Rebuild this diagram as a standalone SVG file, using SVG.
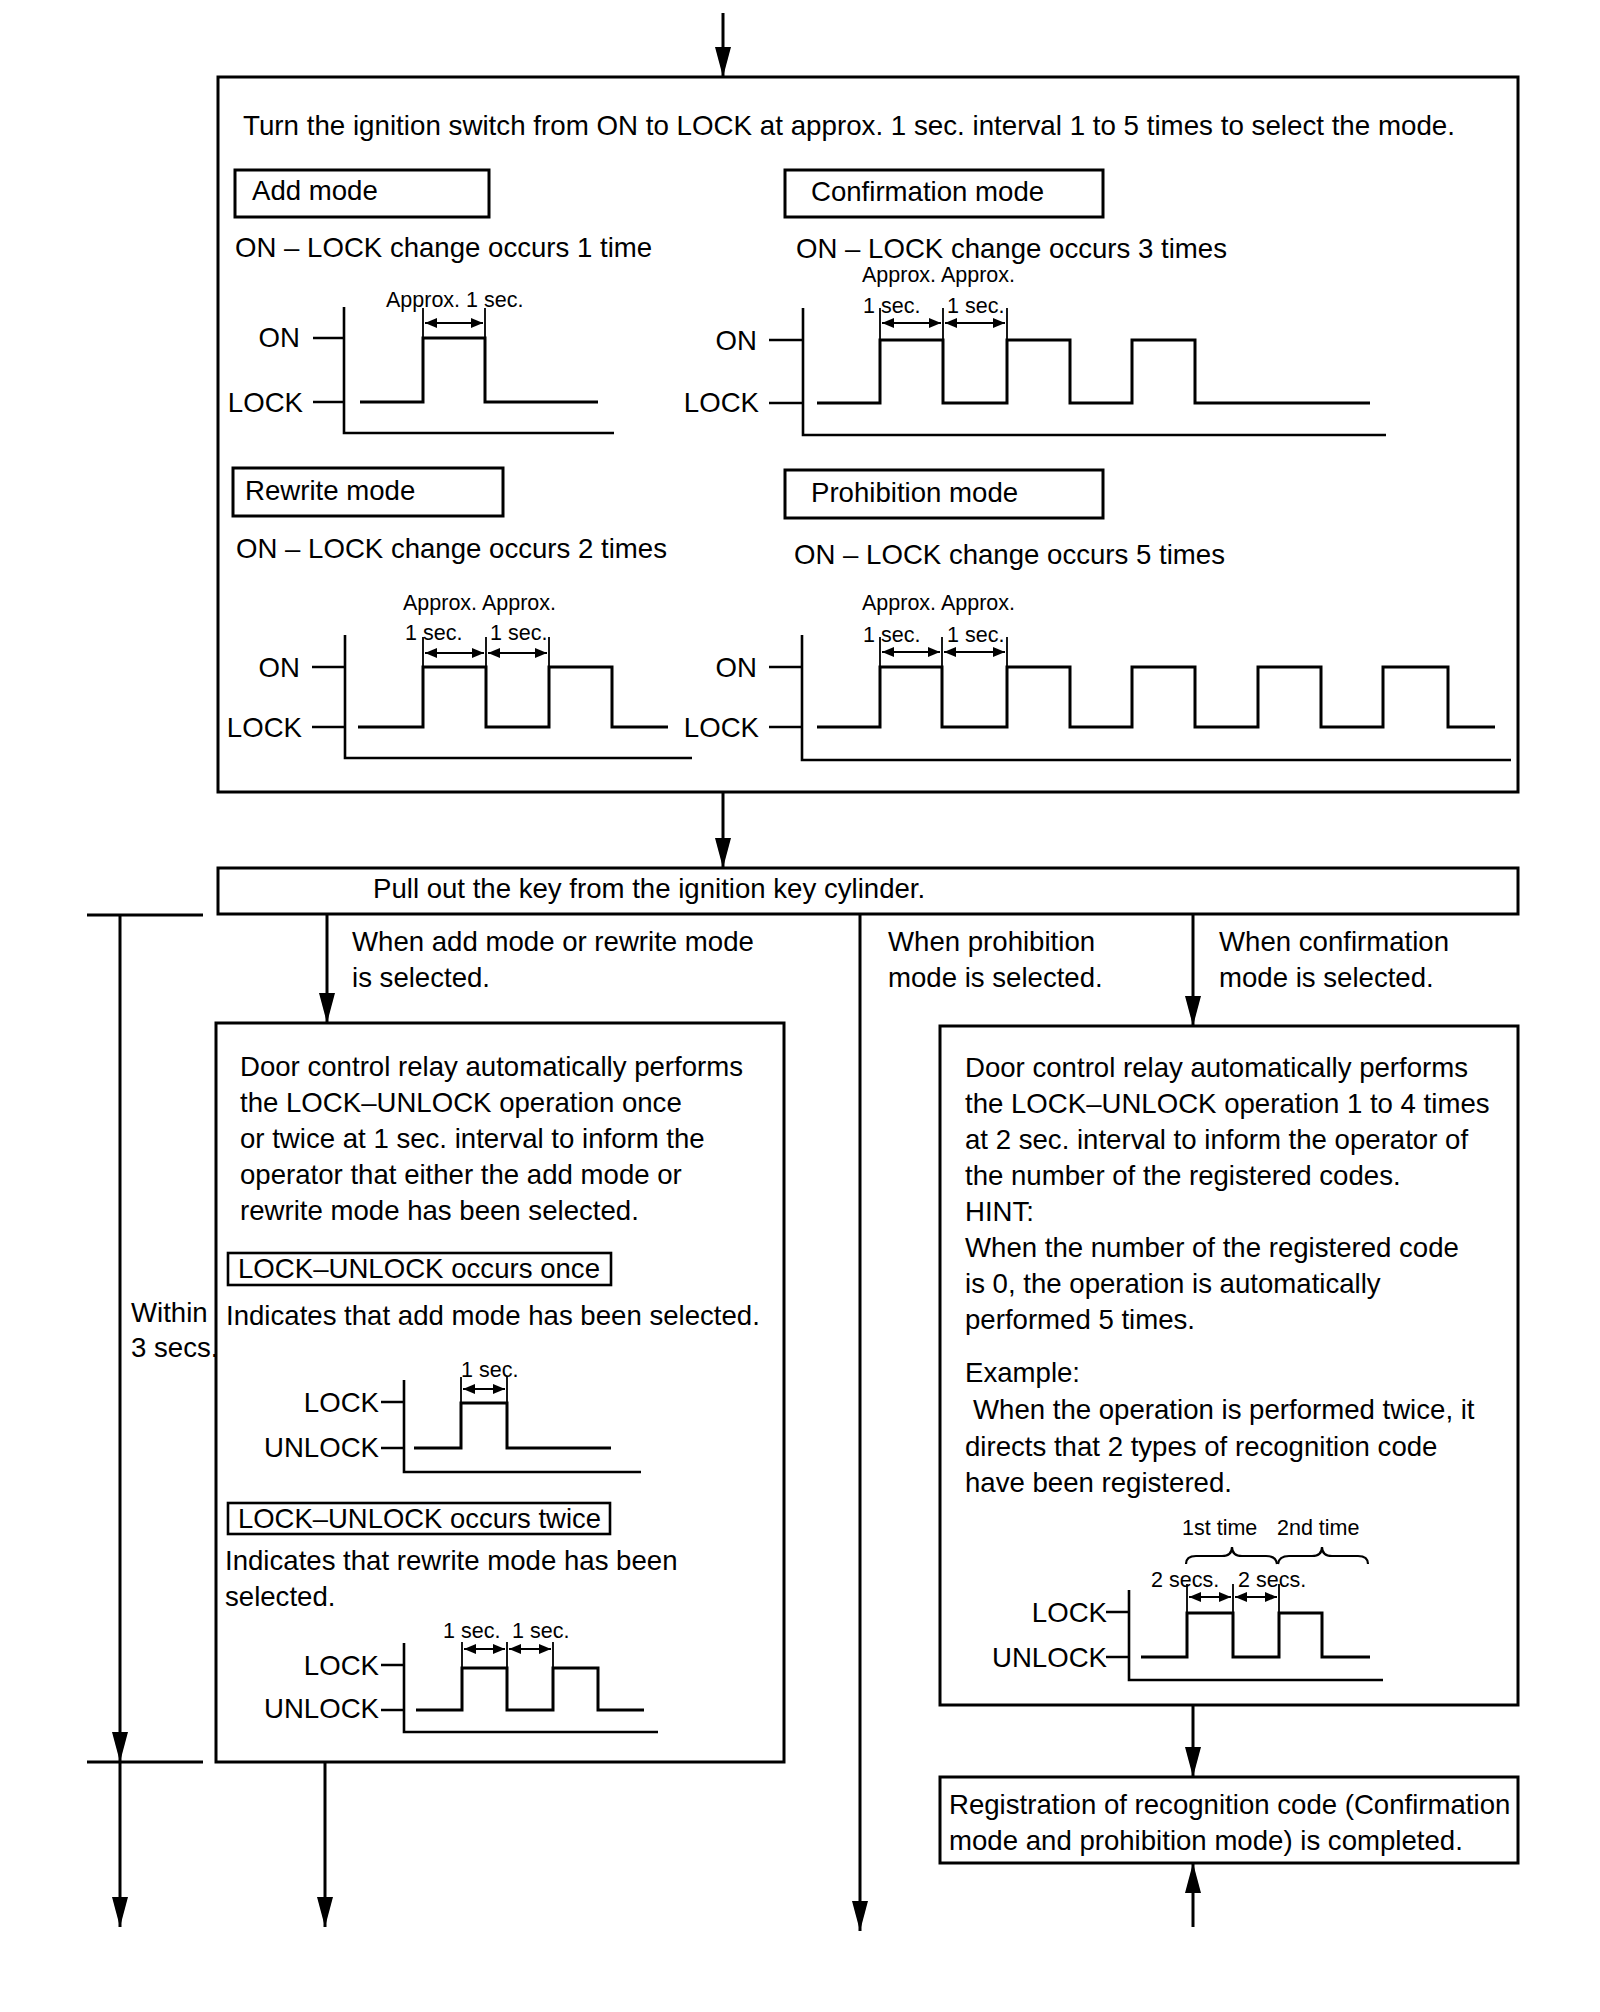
<svg xmlns="http://www.w3.org/2000/svg" width="1600" height="2012" viewBox="0 0 1600 2012">
<style>
text{font-family:"Liberation Sans",Arial,sans-serif;font-size:27.6px;fill:#000}
.s{font-size:21.5px}
.e{text-anchor:end}
.box{fill:none;stroke:#000;stroke-width:3}
.sig{fill:none;stroke:#000;stroke-width:3;stroke-linejoin:miter}
.ax{fill:none;stroke:#000;stroke-width:2.6}
.mk{fill:none;stroke:#000;stroke-width:1.8}
.da{fill:none;stroke:#000;stroke-width:2.2;marker-start:url(#sa);marker-end:url(#sa)}
.fl{fill:none;stroke:#000;stroke-width:3;marker-end:url(#ah)}
.ln{fill:none;stroke:#000;stroke-width:3}
</style>
<defs>
<marker id="ah" viewBox="0 0 30 16" refX="30" refY="8" markerWidth="30" markerHeight="16" orient="auto" markerUnits="userSpaceOnUse"><path d="M0,0 L30,8 L0,16 z" fill="#000"/></marker>
<marker id="sa" viewBox="0 0 12 10" refX="12" refY="5" markerWidth="12" markerHeight="10" orient="auto-start-reverse" markerUnits="userSpaceOnUse"><path d="M0,0 L12,5 L0,10 z" fill="#000"/></marker>
</defs>
<rect width="1600" height="2012" fill="#fff"/>

<g id="mode-select">
<rect class="box" x="218" y="77" width="1300" height="715"/>
<text x="243" y="135" textLength="1212" lengthAdjust="spacingAndGlyphs">Turn the ignition switch from ON to LOCK at approx. 1 sec. interval 1 to 5 times to select the mode.</text>

<g id="add-mode">
<rect class="box" x="235" y="170" width="254" height="47"/>
<text x="252" y="200">Add mode</text>
<text x="235" y="257">ON – LOCK change occurs 1 time</text>
<text class="s" x="386" y="307">Approx. 1 sec.</text>
<text class="e" x="300" y="347">ON</text>
<text class="e" x="303" y="412">LOCK</text>
<path class="ax" d="M344,307 V433 H614 M313,338 H344 M313,402 H344"/>
<path class="mk" d="M423,308 V338 M485,308 V338"/>
<line class="da" x1="425" y1="323" x2="483" y2="323"/>
<path class="sig" d="M360,402 H423 V338 H485 V402 H598"/>
</g>

<g id="confirmation-mode">
<rect class="box" x="785" y="170" width="318" height="47"/>
<text x="811" y="201">Confirmation mode</text>
<text x="796" y="258">ON – LOCK change occurs 3 times</text>
<text class="s" x="862" y="282">Approx. Approx.</text>
<text class="s" x="863" y="313">1 sec.</text>
<text class="s" x="947" y="313">1 sec.</text>
<text class="e" x="757" y="350">ON</text>
<text class="e" x="759" y="412">LOCK</text>
<path class="ax" d="M803,308 V435 H1386 M769,340 H803 M769,403 H803"/>
<path class="mk" d="M880,308 V340 M943,308 V340 M1007,308 V340"/>
<line class="da" x1="882" y1="323" x2="941" y2="323"/>
<line class="da" x1="945" y1="323" x2="1005" y2="323"/>
<path class="sig" d="M817,403 H880 V340 H943 V403 H1007 V340 H1070 V403 H1132 V340 H1195 V403 H1370"/>
</g>

<g id="rewrite-mode">
<rect class="box" x="233" y="468" width="270" height="48"/>
<text x="245" y="500">Rewrite mode</text>
<text x="236" y="558">ON – LOCK change occurs 2 times</text>
<text class="s" x="403" y="610">Approx. Approx.</text>
<text class="s" x="405" y="640">1 sec.</text>
<text class="s" x="490" y="640">1 sec.</text>
<text class="e" x="300" y="677">ON</text>
<text class="e" x="302" y="737">LOCK</text>
<path class="ax" d="M345,635 V758 H692 M312,667 H345 M312,727 H345"/>
<path class="mk" d="M423,637 V667 M486,637 V667 M549,637 V667"/>
<line class="da" x1="425" y1="653" x2="484" y2="653"/>
<line class="da" x1="488" y1="653" x2="547" y2="653"/>
<path class="sig" d="M358,727 H423 V667 H486 V727 H549 V667 H612 V727 H668"/>
</g>

<g id="prohibition-mode">
<rect class="box" x="785" y="470" width="318" height="48"/>
<text x="811" y="502">Prohibition mode</text>
<text x="794" y="564">ON – LOCK change occurs 5 times</text>
<text class="s" x="862" y="610">Approx. Approx.</text>
<text class="s" x="863" y="642">1 sec.</text>
<text class="s" x="947" y="642">1 sec.</text>
<text class="e" x="757" y="677">ON</text>
<text class="e" x="759" y="737">LOCK</text>
<path class="ax" d="M802,635 V760 H1511 M769,667 H802 M769,727 H802"/>
<path class="mk" d="M880,637 V667 M942,637 V667 M1007,637 V667"/>
<line class="da" x1="882" y1="652" x2="940" y2="652"/>
<line class="da" x1="944" y1="652" x2="1005" y2="652"/>
<path class="sig" d="M817,727 H880 V667 H942 V727 H1007 V667 H1070 V727 H1132 V667 H1195 V727 H1258 V667 H1321 V727 H1383 V667 H1448 V727 H1495"/>
</g>
</g>

<g id="pull-out-key">
<rect class="box" x="218" y="868" width="1300" height="46"/>
<text x="373" y="898">Pull out the key from the ignition key cylinder.</text>
</g>

<g id="add-rewrite-feedback">
<rect class="box" x="216" y="1023" width="568" height="739"/>
<text x="240" y="1076">Door control relay automatically performs</text>
<text x="240" y="1112">the LOCK–UNLOCK operation once</text>
<text x="240" y="1148">or twice at 1 sec. interval to inform the</text>
<text x="240" y="1184">operator that either the add mode or</text>
<text x="240" y="1220">rewrite mode has been selected.</text>
<rect class="box" x="228" y="1253" width="383" height="32" style="stroke-width:2.6"/>
<text x="238" y="1278" textLength="362" lengthAdjust="spacingAndGlyphs">LOCK–UNLOCK occurs once</text>
<text x="226" y="1325">Indicates that add mode has been selected.</text>
<text class="s" x="461" y="1377">1 sec.</text>
<text class="e" x="379" y="1412">LOCK</text>
<text class="e" x="379" y="1457">UNLOCK</text>
<path class="ax" d="M404,1380 V1472 H641 M381,1402 H404 M381,1448 H404"/>
<path class="mk" d="M461,1377 V1403 M507,1377 V1403"/>
<line class="da" x1="463" y1="1389" x2="505" y2="1389"/>
<path class="sig" d="M414,1448 H461 V1403 H507 V1448 H611"/>
<rect class="box" x="228" y="1503" width="382" height="31" style="stroke-width:2.6"/>
<text x="238" y="1528" textLength="363" lengthAdjust="spacingAndGlyphs">LOCK–UNLOCK occurs twice</text>
<text x="225" y="1570">Indicates that rewrite mode has been</text>
<text x="225" y="1606">selected.</text>
<text class="s" x="443" y="1638">1 sec.</text>
<text class="s" x="512" y="1638">1 sec.</text>
<text class="e" x="379" y="1675">LOCK</text>
<text class="e" x="379" y="1718">UNLOCK</text>
<path class="ax" d="M404,1643 V1732 H658 M381,1665 H404 M381,1710 H404"/>
<path class="mk" d="M462,1642 V1668 M507,1642 V1668 M553,1642 V1668"/>
<line class="da" x1="464" y1="1649" x2="505" y2="1649"/>
<line class="da" x1="509" y1="1649" x2="551" y2="1649"/>
<path class="sig" d="M416,1710 H462 V1668 H507 V1710 H553 V1668 H598 V1710 H644"/>
</g>

<g id="confirmation-feedback">
<rect class="box" x="940" y="1026" width="578" height="679"/>
<text x="965" y="1077">Door control relay automatically performs</text>
<text x="965" y="1113">the LOCK–UNLOCK operation 1 to 4 times</text>
<text x="965" y="1149">at 2 sec. interval to inform the operator of</text>
<text x="965" y="1185">the number of the registered codes.</text>
<text x="965" y="1221">HINT:</text>
<text x="965" y="1257">When the number of the registered code</text>
<text x="965" y="1293">is 0, the operation is automatically</text>
<text x="965" y="1329">performed 5 times.</text>
<text x="965" y="1382">Example:</text>
<text x="973" y="1419">When the operation is performed twice, it</text>
<text x="965" y="1456">directs that 2 types of recognition code</text>
<text x="965" y="1492">have been registered.</text>
<text class="s" x="1182" y="1535">1st time</text>
<text class="s" x="1277" y="1535">2nd time</text>
<path class="mk" style="stroke-width:2.2" d="M1186,1564 Q1186,1556 1196,1556 H1222 Q1232,1556 1232,1547 Q1232,1556 1242,1556 H1266 Q1276,1556 1277,1564"/>
<path class="mk" style="stroke-width:2.2" d="M1278,1564 Q1279,1556 1289,1556 H1312 Q1322,1556 1322,1547 Q1322,1556 1332,1556 H1358 Q1368,1556 1368,1564"/>
<text class="s" x="1151" y="1587">2 secs.</text>
<text class="s" x="1238" y="1587">2 secs.</text>
<text class="e" x="1107" y="1622">LOCK</text>
<text class="e" x="1107" y="1667">UNLOCK</text>
<path class="ax" d="M1129,1590 V1680 H1383 M1106,1612 H1129 M1106,1657 H1129"/>
<path class="mk" d="M1187,1584 V1613 M1233,1584 V1613 M1279,1584 V1613"/>
<line class="da" x1="1189" y1="1597" x2="1231" y2="1597"/>
<line class="da" x1="1235" y1="1597" x2="1277" y2="1597"/>
<path class="sig" d="M1141,1657 H1187 V1613 H1233 V1657 H1279 V1613 H1322 V1657 H1370"/>
</g>

<g id="registration-complete">
<rect class="box" x="940" y="1777" width="578" height="86"/>
<text x="949" y="1814">Registration of recognition code (Confirmation</text>
<text x="949" y="1850">mode and prohibition mode) is completed.</text>
</g>

<g id="within-3-secs">
<text x="131" y="1322">Within</text>
<text x="131" y="1357">3 secs.</text>
</g>

<g id="connectors">
<line class="fl" x1="723" y1="13" x2="723" y2="77"/>
<line class="fl" x1="723" y1="792" x2="723" y2="868"/>
<line class="fl" x1="327" y1="914" x2="327" y2="1023"/>
<text x="352" y="951">When add mode or rewrite mode</text>
<text x="352" y="987">is selected.</text>
<line class="fl" x1="860" y1="914" x2="860" y2="1931"/>
<text x="888" y="951">When prohibition</text>
<text x="888" y="987">mode is selected.</text>
<line class="fl" x1="1193" y1="914" x2="1193" y2="1026"/>
<text x="1219" y="951">When confirmation</text>
<text x="1219" y="987">mode is selected.</text>
<line class="fl" x1="1193" y1="1705" x2="1193" y2="1777"/>
<line class="fl" x1="1193" y1="1927" x2="1193" y2="1863"/>
<line class="ln" x1="87" y1="915" x2="203" y2="915"/>
<line class="ln" x1="87" y1="1762" x2="203" y2="1762"/>
<line class="fl" x1="120" y1="915" x2="120" y2="1762"/>
<line class="fl" x1="120" y1="1762" x2="120" y2="1927"/>
<line class="fl" x1="325" y1="1762" x2="325" y2="1927"/>
</g>
</svg>
